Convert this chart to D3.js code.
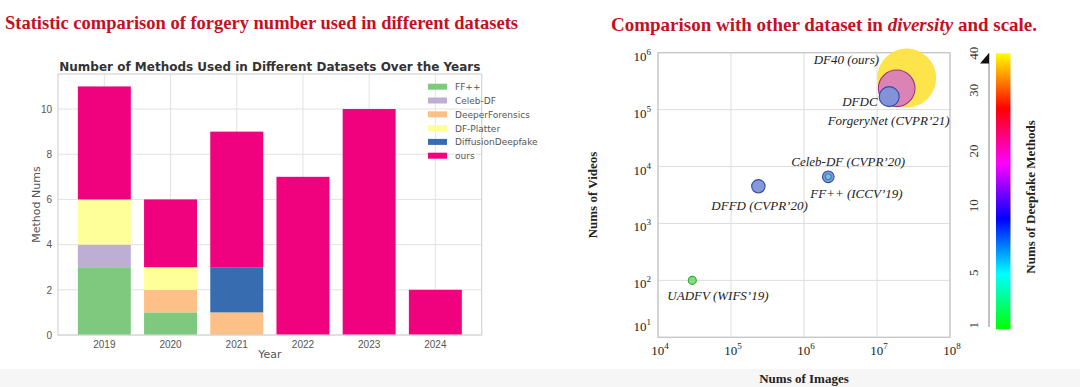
<!DOCTYPE html>
<html>
<head>
<meta charset="utf-8">
<script src="https://cdn.jsdelivr.net/npm/d3@7"></script>
<style>
  body { margin: 0; background: #fff; }
  svg { display: block; }
</style>
</head>
<body>
<svg id="chart" width="1080" height="387"></svg>
<script>
// Left: stacked bars
const years = ['2019', '2020', '2021', '2022', '2023', '2024'];
const seriesNames = ['FF++', 'Celeb-DF', 'DeeperForensics', 'DF-Platter', 'DiffusionDeepfake', 'ours'];
const ffpp      = [3, 1, 0, 0, 0, 0];
const celebdf   = [1, 0, 0, 0, 0, 0];
const deeperf   = [0, 1, 1, 0, 0, 0];
const dfplatter = [2, 1, 0, 0, 0, 0];
const diffusion = [0, 0, 2, 0, 0, 0];
const ours      = [5, 3, 6, 7, 10, 2];
const barTicks = [0, 2, 4, 6, 8, 10];

// Right: bubbles
const datasets  = ['UADFV', 'DFFD', 'FF++', 'Celeb-DF', 'DFDC', 'ForgeryNet', 'DF40'];
const numImages = [2.95e4, 2.37e5, 2.15e6, 2.15e6, 1.47e7, 1.86e7, 2.55e7];
const numVideos = [100, 4.5e3, 6.6e3, 6.6e3, 1.69e5, 2.37e5, 3.59e5];
const numMethods = [1, 8, 8, 6, 8, 21, 40];
const bubbleSize = [0.74, 2.06, 1.55, 0.41, 4.6, 15.4, 40];
const xLogTicks = [1e4, 1e5, 1e6, 1e7, 1e8];
const yLogTicks = [1e1, 1e2, 1e3, 1e4, 1e5, 1e6];
const cbarTicks = [1, 5, 10, 20, 30, 40];

const svg = d3.select('#chart');
const red = '#c1121f';

svg.append('rect').attr('x', 0).attr('y', 369).attr('width', 1080).attr('height', 18).attr('fill', '#f6f6f6');

// titles
svg.append('text')
    .attr('x', 5).attr('y', 29)
    .attr('textLength', 513).attr('lengthAdjust', 'spacingAndGlyphs')
    .style('font-family', '"Liberation Serif", serif')
    .style('font-weight', 'bold').style('font-size', '19px')
    .attr('fill', red)
    .text('Statistic comparison of forgery number used in different datasets');

const t2 = svg.append('text')
    .attr('x', 824).attr('y', 31)
    .attr('text-anchor', 'middle')
    .style('font-family', '"Liberation Serif", serif')
    .style('font-weight', 'bold').style('font-size', '19px')
    .attr('fill', red);
t2.append('tspan').text('Comparison with other dataset in ');
t2.append('tspan').style('font-style', 'italic').text('diversity');
t2.append('tspan').text(' and scale.');

// ---------- left bar chart ----------
const L = { left: 58, right: 481.7, top: 74, bottom: 335 };
const colors = ['#7fc97f', '#beaed4', '#fdc086', '#ffff99', '#386cb0', '#f0027f'];
const allSeries = [ffpp, celebdf, deeperf, dfplatter, diffusion, ours];

const rows = years.map((yr, i) => {
    const r = { year: yr };
    seriesNames.forEach((s, j) => { r[s] = allSeries[j][i]; });
    return r;
});

const x = d3.scaleBand().domain(years).range([L.left, L.right]).paddingInner(0.2).paddingOuter(0.3);
const y = d3.scaleLinear().domain([0, 11.55]).range([L.bottom, L.top]);
const color = d3.scaleOrdinal().domain(seriesNames).range(colors);

const left = svg.append('g').style('font-family', '"DejaVu Sans", sans-serif');

// grid
left.selectAll('.hgrid').data(barTicks).enter().append('line')
    .attr('x1', L.left).attr('x2', L.right)
    .attr('y1', d => y(d)).attr('y2', d => y(d))
    .attr('stroke', '#e2e2e2').attr('stroke-width', 1);
left.selectAll('.vgrid').data(years).enter().append('line')
    .attr('x1', d => x(d) + x.bandwidth() / 2).attr('x2', d => x(d) + x.bandwidth() / 2)
    .attr('y1', L.top).attr('y2', L.bottom)
    .attr('stroke', '#e2e2e2').attr('stroke-width', 1);

const stacked = d3.stack().keys(seriesNames)(rows);
left.selectAll('.layer').data(stacked).enter().append('g')
    .attr('fill', d => color(d.key))
    .selectAll('rect').data(d => d).enter().append('rect')
    .attr('x', d => x(d.data.year))
    .attr('y', d => y(d[1]))
    .attr('width', x.bandwidth())
    .attr('height', d => y(d[0]) - y(d[1]));

left.append('rect')
    .attr('x', L.left).attr('y', L.top)
    .attr('width', L.right - L.left).attr('height', L.bottom - L.top)
    .attr('fill', 'none').attr('stroke', '#d4d4d4').attr('stroke-width', 1.2);

const ya = left.append('g')
    .attr('transform', `translate(${L.left},0)`)
    .call(d3.axisLeft(y).tickValues(barTicks).tickSize(0).tickPadding(6));
ya.select('.domain').remove();
ya.selectAll('text').style('font-size', '10px').attr('fill', '#555');

const xa = left.append('g')
    .attr('transform', `translate(0,${L.bottom})`)
    .call(d3.axisBottom(x).tickSize(0).tickPadding(6));
xa.select('.domain').remove();
xa.selectAll('text').style('font-size', '10px').attr('fill', '#555');

left.append('text')
    .attr('x', (L.left + L.right) / 2).attr('y', 358)
    .attr('text-anchor', 'middle')
    .style('font-size', '11px').attr('fill', '#555')
    .text('Year');
left.append('text')
    .attr('transform', `translate(40,${(L.top + L.bottom) / 2}) rotate(-90)`)
    .attr('text-anchor', 'middle')
    .style('font-size', '11px').attr('fill', '#555')
    .text('Method Nums');
left.append('text')
    .attr('x', (L.left + L.right) / 2).attr('y', 71)
    .attr('text-anchor', 'middle')
    .style('font-size', '12px').style('font-weight', 'bold').attr('fill', '#333')
    .text('Number of Methods Used in Different Datasets Over the Years');

// legend
const lg = left.selectAll('.lg').data(seriesNames).enter().append('g')
    .attr('transform', (d, i) => `translate(428,${86.7 + i * 13.8})`);
lg.append('rect').attr('x', 0).attr('y', -3).attr('width', 19).attr('height', 6)
    .attr('fill', d => color(d));
lg.append('text').attr('x', 27).attr('y', 3.5)
    .style('font-size', '9px').attr('fill', '#555')
    .text(d => d);

// ---------- right bubble chart ----------
const R = { left: 658, right: 950, top: 52.7, bottom: 337.3 };
const xr = d3.scaleLog().domain([1e4, 1e8]).range([R.left, R.right]);
const yr = d3.scaleLog().domain([1e1, 1e6]).range([R.bottom, R.top]);
const size = d3.scaleSqrt().domain([0, 40]).range([0, 29.5]);

// colorbar: value -> fraction along the bar, fraction -> hue sweep
const CB = { x: 996, w: 14.5, top: 53.3, bottom: 329.3 };
const cbFrac = d3.scaleLinear().domain(cbarTicks).range([0, 0.205, 0.448, 0.646, 0.866, 1]);
const cbY = f => CB.bottom - f * (CB.bottom - CB.top) + (f === 0 ? -4 : 0);
const hueAt = f => 120 + f * 300;
const bubbleFill = v => v >= 40
    ? d3.hsl(52, 0.97, 0.62)
    : d3.hsl(hueAt(cbFrac(v)) % 360, 0.55, 0.67);

const right = svg.append('g').style('font-family', '"Liberation Serif", serif');

right.selectAll('.xg').data(xLogTicks).enter().append('line')
    .attr('x1', d => xr(d)).attr('x2', d => xr(d))
    .attr('y1', R.top).attr('y2', R.bottom)
    .attr('stroke', '#dedede');
right.selectAll('.yg').data(yLogTicks).enter().append('line')
    .attr('x1', R.left).attr('x2', R.right)
    .attr('y1', d => yr(d)).attr('y2', d => yr(d))
    .attr('stroke', '#dedede');
right.append('rect')
    .attr('x', R.left).attr('y', R.top)
    .attr('width', R.right - R.left).attr('height', R.bottom - R.top)
    .attr('fill', 'none').attr('stroke', '#c4c4c4').attr('stroke-width', 1.2);

const exp = d => Math.round(Math.log10(d));
const yTick = right.selectAll('.yt').data(yLogTicks).enter().append('text')
    .attr('x', 651)
    .attr('y', d => yr(d) + (d === yLogTicks[0] ? -6 : 8))
    .attr('text-anchor', 'end')
    .style('font-size', '13px').attr('fill', '#222');
yTick.append('tspan').text('10');
yTick.append('tspan').attr('dy', -6).style('font-size', '9px').text(d => exp(d));

const xTick = right.selectAll('.xt').data(xLogTicks).enter().append('text')
    .attr('x', d => xr(d) + 2)
    .attr('y', 355)
    .attr('text-anchor', 'middle')
    .style('font-size', '13px').attr('fill', '#222');
xTick.append('tspan').text('10');
xTick.append('tspan').attr('dy', -6).style('font-size', '9px').text(d => exp(d));

right.append('text')
    .attr('x', (R.left + R.right) / 2).attr('y', 383)
    .attr('text-anchor', 'middle')
    .style('font-size', '13px').style('font-weight', 'bold').attr('fill', '#222')
    .text('Nums of Images');
right.append('text')
    .attr('transform', `translate(597,${(R.top + R.bottom) / 2}) rotate(-90)`)
    .attr('text-anchor', 'middle')
    .style('font-size', '13px').style('font-weight', 'bold').attr('fill', '#222')
    .text('Nums of Videos');

// bubbles, largest first
const bubbles = datasets.map((name, i) => ({
    name, img: numImages[i], vid: numVideos[i], m: numMethods[i], s: bubbleSize[i]
})).sort((a, b) => b.s - a.s);

right.selectAll('.bub').data(bubbles).enter().append('circle')
    .attr('cx', d => xr(d.img))
    .attr('cy', d => yr(d.vid))
    .attr('r', d => size(d.s))
    .attr('fill', d => bubbleFill(d.m))
    .attr('fill-opacity', 0.95)
    .attr('stroke', d => d.m >= 40 ? 'none' : bubbleFill(d.m).darker(1.3))
    .attr('stroke-width', 1.1);

const labels = [
    { name: 'DF40', text: 'DF40 (ours)', dx: -93, dy: -14 },
    { name: 'DFDC', text: 'DFDC', dx: -47, dy: 9 },
    { name: 'ForgeryNet', text: 'ForgeryNet (CVPR\u201921)', dx: -69, dy: 37 },
    { name: 'Celeb-DF', text: 'Celeb-DF (CVPR\u201920)', dx: -37, dy: -11 },
    { name: 'FF++', text: 'FF++ (ICCV\u201919)', dx: -18, dy: 21 },
    { name: 'DFFD', text: 'DFFD (CVPR\u201920)', dx: -47, dy: 24 },
    { name: 'UADFV', text: 'UADFV (WIFS\u201919)', dx: -25, dy: 20 }
];
right.selectAll('.lab').data(labels).enter().append('text')
    .attr('x', d => xr(numImages[datasets.indexOf(d.name)]) + d.dx)
    .attr('y', d => yr(numVideos[datasets.indexOf(d.name)]) + d.dy)
    .style('font-size', '13px').style('font-style', 'italic').attr('fill', '#222')
    .text(d => d.text);

// colorbar
const defs = svg.append('defs');
const grad = defs.append('linearGradient').attr('id', 'cb')
    .attr('x1', 0).attr('y1', 1).attr('x2', 0).attr('y2', 0);
d3.range(0, 1.0001, 0.05).forEach(f => {
    grad.append('stop').attr('offset', f).attr('stop-color', d3.hsl(hueAt(f) % 360, 1, 0.5));
});
right.append('rect')
    .attr('x', CB.x).attr('y', CB.top)
    .attr('width', CB.w).attr('height', CB.bottom - CB.top)
    .attr('fill', 'url(#cb)');

right.append('line')
    .attr('x1', 989).attr('x2', 989).attr('y1', CB.top).attr('y2', 327)
    .attr('stroke', '#999').attr('stroke-width', 1.2);
right.append('path')
    .attr('d', 'M980,63.5L989,53L989,63.5Z')
    .attr('fill', '#111');

right.selectAll('.cbt').data(cbarTicks).enter().append('text')
    .attr('transform', d => `translate(978,${cbY(cbFrac(d))}) rotate(-90)`)
    .attr('text-anchor', 'middle')
    .style('font-size', '13px').attr('fill', '#333')
    .text(d => d);

right.append('text')
    .attr('transform', `translate(1035,197) rotate(-90)`)
    .attr('text-anchor', 'middle')
    .style('font-size', '13px').style('font-weight', 'bold').attr('fill', '#222')
    .text('Nums of Deepfake Methods');
</script>
</body>
</html>
